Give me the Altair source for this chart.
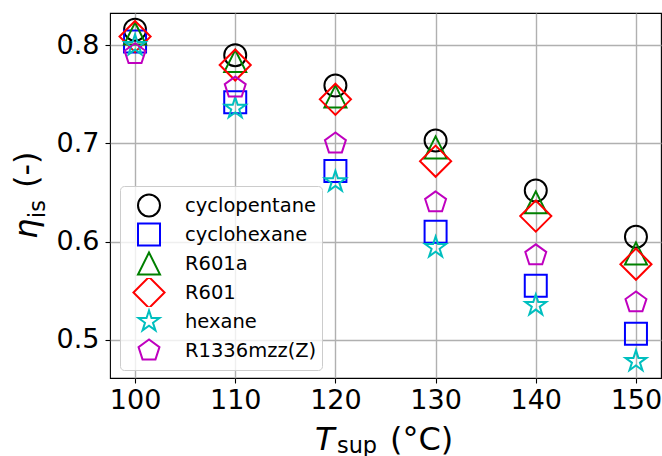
import altair as alt
import pandas as pd

# Supply temperature (°C) and isentropic efficiency per working fluid
temperatures = [100, 110, 120, 130, 140, 150]
fluids = ["cyclopentane", "cyclohexane", "R601a", "R601", "hexane", "R1336mzz(Z)"]
eta_cyclopentane = [0.816, 0.790, 0.759, 0.703, 0.652, 0.605]
eta_cyclohexane = [0.804, 0.742, 0.672, 0.610, 0.555, 0.506]
eta_r601a = [0.812, 0.784, 0.748, 0.696, 0.640, 0.588]
eta_r601 = [0.809, 0.780, 0.745, 0.682, 0.626, 0.577]
eta_hexane = [0.800, 0.736, 0.661, 0.594, 0.535, 0.478]
eta_r1336mzz_z = [0.791, 0.757, 0.700, 0.640, 0.586, 0.538]
fluid_colors = ["#000000", "#0000ff", "#008000", "#ff0000", "#00bfbf", "#bf00bf"]
x_ticks = [100, 110, 120, 130, 140, 150]
y_ticks = [0.5, 0.6, 0.7, 0.8]

# Marker outlines in unit coordinates (scaled by sqrt(size)/2)
CIRCLE = "circle"
SQUARE = "M-1,-1L1,-1L1,1L-1,1Z"
TRIANGLE = "M0,-1L-1,1L1,1Z"
DIAMOND = "M0,-1.4142L1.4142,0L0,1.4142L-1.4142,0Z"
STAR = ("M0,-1L-0.2245,-0.309L-0.9511,-0.309L-0.3633,0.118L-0.5878,0.809"
        "L0,0.382L0.5878,0.809L0.3633,0.118L0.9511,-0.309L0.2245,-0.309Z")
PENTAGON = "M0,-1L-0.9511,-0.309L-0.5878,0.809L0.5878,0.809L0.9511,-0.309Z"
fluid_shapes = [CIRCLE, SQUARE, TRIANGLE, DIAMOND, STAR, PENTAGON]

series = [eta_cyclopentane, eta_cyclohexane, eta_r601a, eta_r601, eta_hexane, eta_r1336mzz_z]
rows = []
for name, values in zip(fluids, series):
    for t, v in zip(temperatures, values):
        rows.append({"T": t, "eta": v, "fluid": name})
df = pd.DataFrame(rows)

FONT = "DejaVu Sans"

# Fixed-height legend rows so the taller diamond keeps an even row spacing
legend = alt.Legend(
    title=None,
    orient="none",
    legendX=10,
    legendY=173,
    fillColor="rgba(255,255,255,0.8)",
    strokeColor="#cccccc",
    cornerRadius=4,
    padding=5,
    rowPadding=0,
    clipHeight=29,
    symbolSize=484,
    symbolStrokeWidth=2,
    symbolOffset=12,
    labelFont=FONT,
    labelFontSize=19.5,
    labelColor="black",
    labelOffset=24,
    labelExpr="datum.label + ' '",
)

points = alt.Chart(df).mark_point(filled=False, size=484, strokeWidth=2, opacity=1).encode(
    x=alt.X(
        "T:Q",
        scale=alt.Scale(domain=[97.5, 152.5], nice=False, zero=False),
        axis=alt.Axis(values=x_ticks, format="d", title=None, labelPadding=4),
    ),
    y=alt.Y(
        "eta:Q",
        scale=alt.Scale(domain=[0.461, 0.833], nice=False, zero=False),
        axis=alt.Axis(values=y_ticks, format=".1f", title=None, labelPadding=6),
    ),
    color=alt.Color("fluid:N", scale=alt.Scale(domain=fluids, range=fluid_colors), legend=legend),
    shape=alt.Shape("fluid:N", scale=alt.Scale(domain=fluids, range=fluid_shapes), legend=legend),
)


def piece(text, x, y, size, angle=0, italic=False):
    return alt.Chart(pd.DataFrame({"t": [text]})).mark_text(
        align="left",
        baseline="alphabetic",
        font=FONT,
        fontSize=size,
        fontStyle="italic" if italic else "normal",
        angle=angle,
        color="black",
    ).encode(x=alt.value(x), y=alt.value(y), text="t:N")


# Axis titles with subscripts: T_sup (°C) and eta_is (-)
x_title = [
    piece("T", 205, 437, 32, italic=True),
    piece("sup", 227, 440, 22.4),
    piece("(°C)", 280, 437, 32),
]
y_title = [
    piece("η", -73, 226, 32, angle=270, italic=True),
    piece("is", -65, 205, 22.4, angle=270),
    piece("(-)", -73, 175, 32, angle=270),
]

chart = alt.layer(points, *x_title, *y_title).properties(
    width=551,
    height=365,
    autosize=alt.AutoSizeParams(type="none"),
    padding={"left": 110, "top": 13, "right": 1, "bottom": 78},
).configure_view(
    stroke="black", strokeWidth=1.1
).configure_axis(
    domain=False,
    grid=True,
    gridColor="#b0b0b0",
    gridWidth=1.4,
    tickColor="black",
    tickWidth=1.1,
    tickSize=5,
    labelFont=FONT,
    labelFontSize=27,
    labelColor="black",
    labelFlush=False,
    labelOverlap=False,
)

chart.save("out.html", embed_options={"renderer": "svg", "actions": False})
